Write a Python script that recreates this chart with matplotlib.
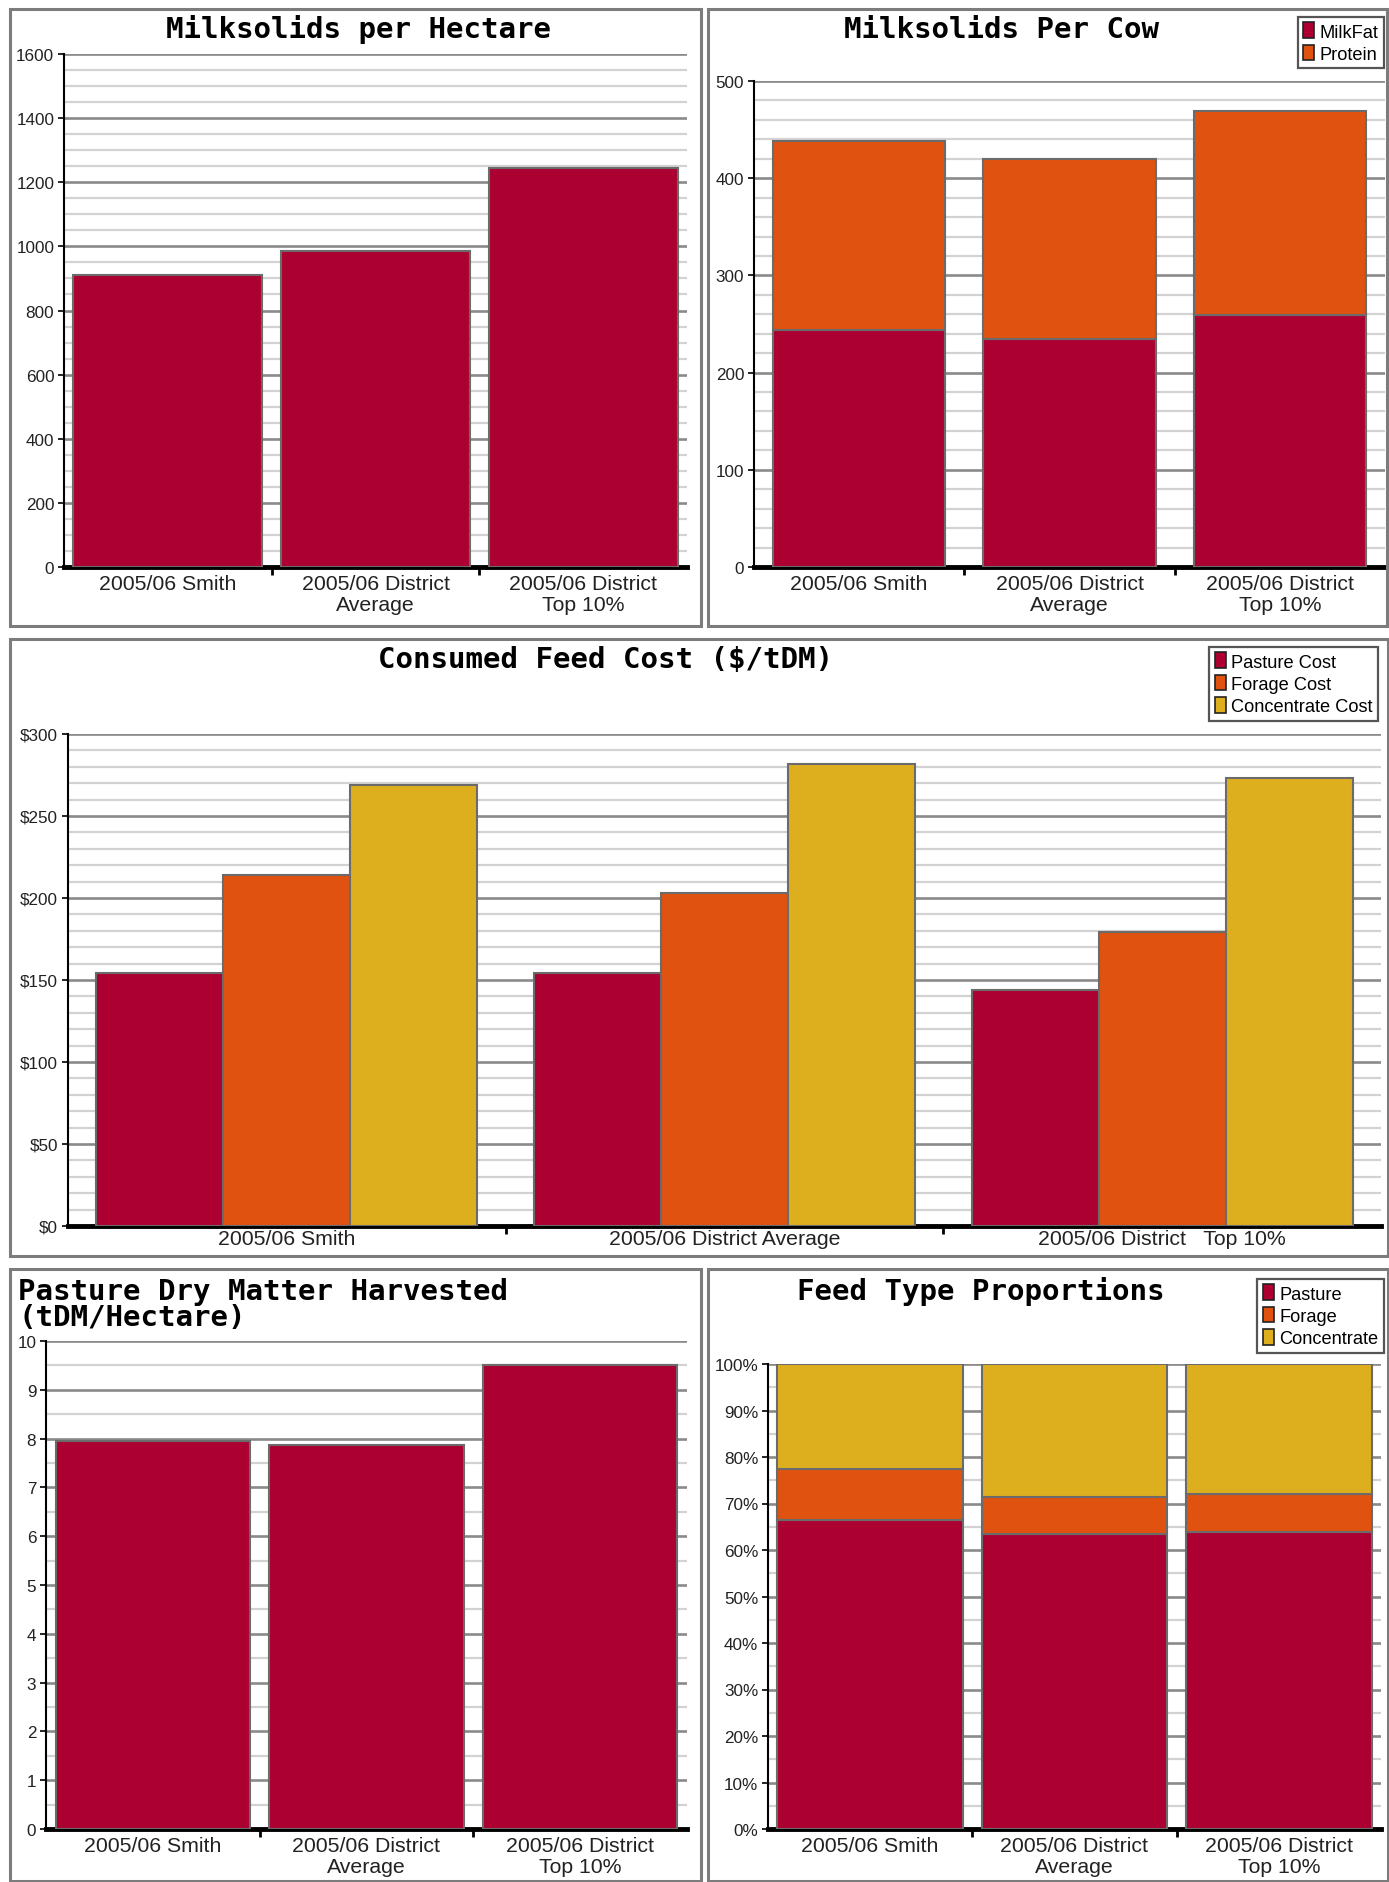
import matplotlib
matplotlib.use("Agg")
import matplotlib.pyplot as plt
from matplotlib.patches import Rectangle, Patch
from matplotlib.ticker import MultipleLocator, FixedLocator
from matplotlib import font_manager as fm

# ---------------- data ----------------
categories = ["2005/06 Smith", "2005/06 District\nAverage", "2005/06 District\nTop 10%"]
cost_categories = ["2005/06 Smith", "2005/06 District Average", "2005/06 District   Top 10%"]

ms_per_ha = [912, 987, 1245]

milkfat = [244, 235, 259]
protein = [194, 185, 210]

pasture_cost = [154, 154, 144]
forage_cost = [214, 203, 179]
concentrate_cost = [269, 282, 273]

pasture_dm = [7.96, 7.86, 9.51]

prop_pasture = [66.5, 63.5, 63.8]
prop_forage = [10.9, 7.8, 8.3]
prop_concentrate = [22.6, 28.7, 27.9]

# ---------------- style ----------------
W, H = 1389, 1883
CRIMSON = "#AD0032"
ORANGE = "#E05210"
GOLD = "#DDAF1F"
EDGE = "#6b6b6b"

names = {f.name for f in fm.fontManager.ttflist}
if "Liberation Sans Narrow" in names:
    LF, FS = "Liberation Sans Narrow", 1.0
else:
    LF, FS = "Liberation Sans", 0.85
TF = "DejaVu Sans Mono"

fig = plt.figure(figsize=(W / 100, H / 100), dpi=100)
fig.patch.set_facecolor("white")


def px_axes(l, r, t, b):
    return fig.add_axes([l / W, 1 - b / H, (r - l) / W, (b - t) / H])


def border(x1, x2, y1, y2):
    fig.add_artist(Rectangle((x1 / W, 1 - y2 / H), (x2 - x1) / W, (y2 - y1) / H,
                             transform=fig.transFigure, fill=False,
                             ec="#7c7c7c", lw=2.2))


def style_axes(ax, ymax, major, minor, fmt, labels, xtick_fs=18):
    ax.set_xlim(-0.5, 2.5)
    ax.set_ylim(0, ymax)
    ax.yaxis.set_major_locator(MultipleLocator(major))
    ax.yaxis.set_minor_locator(MultipleLocator(minor))
    ax.set_yticklabels([fmt(v) for v in ax.get_yticks()])
    ax.grid(axis="y", which="minor", color="#d2d2d2", lw=1.6, zorder=0)
    ax.grid(axis="y", which="major", color="#8a8a8a", lw=1.9, zorder=0)
    ax.set_axisbelow(True)
    for s in ["top", "right"]:
        ax.spines[s].set_visible(False)
    ax.spines["left"].set_color("black")
    ax.spines["left"].set_linewidth(1.5)
    ax.spines["bottom"].set_color("black")
    ax.spines["bottom"].set_linewidth(3.5)
    ax.spines["left"].set_zorder(1)
    ax.spines["bottom"].set_zorder(1)
    ax.set_xticks([0, 1, 2])
    ax.set_xticklabels(labels, fontfamily=LF, fontsize=xtick_fs * FS,
                       color="#222222", linespacing=1.12)
    ax.xaxis.set_minor_locator(FixedLocator([0.5, 1.5]))
    ax.tick_params(axis="x", which="major", length=0, pad=5)
    ax.tick_params(axis="x", which="minor", length=6, width=2, color="black",
                   direction="out")
    ax.tick_params(axis="y", which="major", length=4, width=1.2, color="black",
                   pad=3)
    ax.tick_params(axis="y", which="minor", length=0)
    for lab in ax.get_yticklabels():
        lab.set_fontfamily(LF)
        lab.set_fontsize(14.5 * FS)
        lab.set_color("#222222")
    ax.set_facecolor("white")


def legend(ax, labels, colors, right_px, top_px, fs=15.5):
    handles = [Patch(facecolor=c, edgecolor="#222222", lw=1.2) for c in colors]
    lg = ax.legend(handles, labels, loc="upper right",
                   bbox_to_anchor=(right_px / W, 1 - top_px / H),
                   bbox_transform=fig.transFigure,
                   prop={"family": LF, "size": fs * FS},
                   handlelength=0.6, handleheight=0.95, handletextpad=0.3,
                   labelspacing=0.22, borderpad=0.3, borderaxespad=0,
                   fancybox=False, framealpha=1)
    lg.get_frame().set_edgecolor("#555555")
    lg.get_frame().set_linewidth(1.6)


def title(x, y, s, ha="center"):
    fig.text(x / W, 1 - y / H, s, ha=ha, va="center", fontfamily=TF,
             fontweight="bold", fontsize=21, color="black")


# ---------------- panel borders ----------------
border(10, 701, 10, 627)
border(708, 1387, 10, 627)
border(10, 1388, 640, 1257)
border(10, 701, 1270, 1882)
border(708, 1388, 1270, 1882)

x = [0, 1, 2]

# ---------------- Panel 1 ----------------
ax1 = px_axes(64, 687, 55, 568)
ax1.bar(x, ms_per_ha, width=0.91, color=CRIMSON, edgecolor=EDGE, lw=1.5, zorder=3)
style_axes(ax1, 1600, 200, 50, lambda v: f"{int(v)}", categories)
title(358, 30, "Milksolids per Hectare")

# ---------------- Panel 2 ----------------
ax2 = px_axes(754, 1385, 82, 568)
ax2.bar(x, milkfat, width=0.82, color=CRIMSON, edgecolor=EDGE, lw=1.5, zorder=3)
ax2.bar(x, protein, bottom=milkfat, width=0.82, color=ORANGE, edgecolor=EDGE,
        lw=1.5, zorder=3)
style_axes(ax2, 500, 100, 20, lambda v: f"{int(v)}", categories)
legend(ax2, ["MilkFat", "Protein"], [CRIMSON, ORANGE], 1384, 18)
title(1002, 30, "Milksolids Per Cow")

# ---------------- Panel 3 ----------------
ax3 = px_axes(68, 1381, 735, 1227)
bw = 0.29
ax3.bar([i - bw for i in x], pasture_cost, width=bw, color=CRIMSON,
        edgecolor=EDGE, lw=1.5, zorder=3)
ax3.bar(x, forage_cost, width=bw, color=ORANGE, edgecolor=EDGE, lw=1.5, zorder=3)
ax3.bar([i + bw for i in x], concentrate_cost, width=bw, color=GOLD,
        edgecolor=EDGE, lw=1.5, zorder=3)
style_axes(ax3, 300, 50, 10, lambda v: r"\$" + f"{int(v)}", cost_categories)
ax3.tick_params(axis="x", which="major", pad=2)
legend(ax3, ["Pasture Cost", "Forage Cost", "Concentrate Cost"],
       [CRIMSON, ORANGE, GOLD], 1378, 648)
title(605, 660, r"Consumed Feed Cost (\$/tDM)")

# ---------------- Panel 4 ----------------
ax4 = px_axes(46, 687, 1342, 1830)
ax4.bar(x, pasture_dm, width=0.91, color=CRIMSON, edgecolor=EDGE, lw=1.5, zorder=3)
style_axes(ax4, 10, 1, 0.5, lambda v: f"{int(v)}", categories)
fig.text(18 / W, 1 - 1305 / H, "Pasture Dry Matter Harvested\n(tDM/Hectare)",
         ha="left", va="center", fontfamily=TF, fontweight="bold", fontsize=21,
         linespacing=0.95)

# ---------------- Panel 5 ----------------
ax5 = px_axes(768, 1381, 1365, 1830)
b2 = [a + b for a, b in zip(prop_pasture, prop_forage)]
ax5.bar(x, prop_pasture, width=0.91, color=CRIMSON, edgecolor=EDGE, lw=1.5, zorder=3)
ax5.bar(x, prop_forage, bottom=prop_pasture, width=0.91, color=ORANGE,
        edgecolor=EDGE, lw=1.5, zorder=3)
ax5.bar(x, prop_concentrate, bottom=b2, width=0.91, color=GOLD, edgecolor=EDGE,
        lw=1.5, zorder=3)
style_axes(ax5, 100, 10, 5, lambda v: f"{int(v)}%", categories)
legend(ax5, ["Pasture", "Forage", "Concentrate"], [CRIMSON, ORANGE, GOLD], 1384, 1280)
title(981, 1292, "Feed Type Proportions")

fig.savefig("out.png", dpi=100, facecolor="white")
